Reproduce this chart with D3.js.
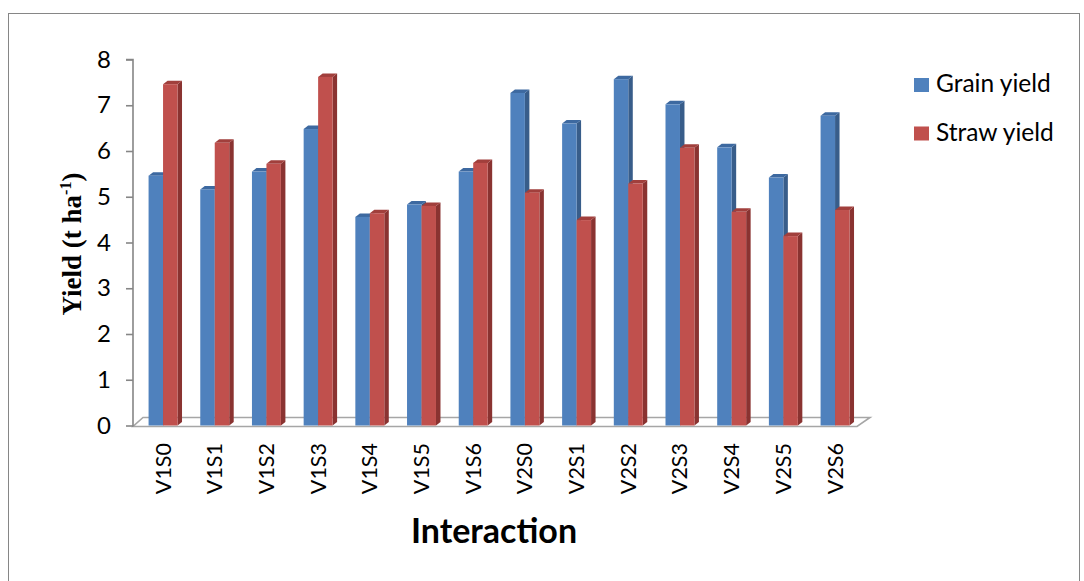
<!DOCTYPE html>
<html>
<head>
<meta charset="utf-8">
<script src="https://d3js.org/d3.v7.min.js"></script>
<style>
  html, body { margin: 0; padding: 0; background: #fff; }
  svg { display: block; }
  text { font-family: Lato, "Open Sans", sans-serif; fill: #000; }
</style>
</head>
<body>
<svg id="chart" width="1084" height="581"></svg>
<script>
// Interaction treatments (variety x sowing)
const categories = ["V1S0","V1S1","V1S2","V1S3","V1S4","V1S5","V1S6",
                    "V2S0","V2S1","V2S2","V2S3","V2S4","V2S5","V2S6"];
// Yield, t ha-1
const grainYield = [5.46, 5.16, 5.55, 6.48, 4.56, 4.83, 5.55,
                    7.27, 6.60, 7.57, 7.02, 6.08, 5.42, 6.77];
const strawYield = [7.46, 6.18, 5.72, 7.62, 4.64, 4.80, 5.74,
                    5.09, 4.49, 5.29, 6.07, 4.67, 4.14, 4.71];
const yTicks = [0, 1, 2, 3, 4, 5, 6, 7, 8];
const seriesNames = ["Grain yield", "Straw yield"];

const series = [
  { name: seriesNames[0], values: grainYield, front: "#4F81BD", side: "#385D8A", top: "#3D69A0" },
  { name: seriesNames[1], values: strawYield, front: "#C0504D", side: "#8A3331", top: "#A13F3C" }
];

const svg = d3.select("#chart");

// outer chart frame
svg.append("rect")
  .attr("x", 8.5).attr("y", 13.5)
  .attr("width", 1071).attr("height", 600)
  .attr("fill", "none").attr("stroke", "#868686").attr("stroke-width", 1);

const axisX = 133;
const y = d3.scaleLinear().domain([0, 8]).range([425.5, 59.5]);
const x = d3.scaleBand().domain(categories).range([137.2, 860.9]).padding(0);
const barW = x.bandwidth() * 0.28;
const depth = { dx: 4.5, dy: 3.5 };          // bar depth offset
const floorDepth = { dx: 10, dy: 9 };        // floor depth offset

// floor
const floorFront = y(0) + 1;
const floorLeft = axisX, floorRight = 857;
svg.append("path")
  .attr("d", `M${floorLeft},${floorFront} L${floorRight},${floorFront} L${floorRight + floorDepth.dx + 3},${floorFront - floorDepth.dy} L${floorLeft + floorDepth.dx},${floorFront - floorDepth.dy} Z`)
  .attr("fill", "#fff").attr("stroke", "#a6a6a6").attr("stroke-width", 1.6);

// value axis
const yAxis = d3.axisLeft(y).tickValues(yTicks).tickSize(7).tickPadding(15).tickFormat(d3.format("d"));
const gy = svg.append("g").attr("transform", `translate(${axisX},0)`).call(yAxis);
gy.select(".domain").attr("stroke", "#868686").attr("stroke-width", 1.6)
  .attr("d", `M-7,${y(8)}H0V${floorFront}`);
gy.selectAll(".tick line").attr("stroke", "#868686").attr("stroke-width", 1.6);
gy.selectAll(".tick text").attr("font-size", 24).attr("font-family", "Lato, sans-serif").attr("fill", "#000");

// 3D columns
const g = svg.append("g");
categories.forEach((c, i) => {
  const cx = x(c) + x.bandwidth() / 2;
  series.forEach((s, k) => {
    const v = s.values[i];
    const x0 = cx - barW + k * barW;
    const x1 = x0 + barW;
    const yt = y(v), yb = y(0);
    const bar = g.append("g");
    bar.append("path")
      .attr("d", `M${x1},${yt} L${x1 + depth.dx},${yt - depth.dy} L${x1 + depth.dx},${yb - depth.dy} L${x1},${yb} Z`)
      .attr("fill", s.side);
    bar.append("path")
      .attr("d", `M${x0},${yt} L${x0 + depth.dx},${yt - depth.dy} L${x1 + depth.dx},${yt - depth.dy} L${x1},${yt} Z`)
      .attr("fill", s.top);
    bar.append("rect")
      .attr("x", x0).attr("y", yt)
      .attr("width", barW).attr("height", yb - yt)
      .attr("fill", s.front);
  });
});

// category labels
svg.append("g").selectAll("text").data(categories).join("text")
  .attr("transform", d => `translate(${x(d) + x.bandwidth() / 2 + 7.5},443) rotate(-90)`)
  .attr("text-anchor", "end")
  .attr("font-size", 21.5)
  .text(d => d);

// axis titles
svg.append("text")
  .attr("x", 494).attr("y", 543)
  .attr("text-anchor", "middle")
  .attr("font-size", 34).attr("font-weight", "bold")
  .text("Interaction");

const yTitle = svg.append("text")
  .attr("transform", "translate(81,244) rotate(-90)")
  .attr("text-anchor", "middle")
  .style("font-family", "'Liberation Serif', 'Times New Roman', serif")
  .attr("font-size", 27).attr("font-weight", "bold");
yTitle.append("tspan").text("Yield (t ha");
yTitle.append("tspan").attr("font-size", 16).attr("dy", -10).text("-1");
yTitle.append("tspan").attr("dy", 10).text(")");

// legend
const legend = svg.append("g").attr("transform", "translate(914,78)");
series.forEach((s, k) => {
  const row = legend.append("g").attr("transform", `translate(0,${k * 48.5})`);
  row.append("rect").attr("width", 15).attr("height", 14).attr("fill", s.front);
  row.append("text").attr("x", 22).attr("y", 14).attr("font-size", 24.5).text(s.name);
});
</script>
</body>
</html>
